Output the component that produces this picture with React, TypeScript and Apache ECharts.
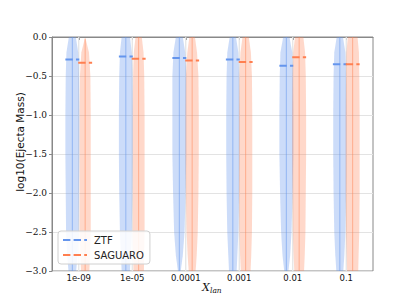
import React, { useEffect, useRef } from "react";
import * as echarts from "echarts";

const categories = ["1e-09", "1e-05", "0.0001", "0.001", "0.01", "0.1"];
const ztfMedian = [-0.29, -0.25, -0.27, -0.29, -0.37, -0.35];
const saguaroMedian = [-0.33, -0.28, -0.3, -0.32, -0.26, -0.35];
const ztfTop = [0, 0, 0, 0, 0, 0];
const saguaroTop = [-0.02, 0, 0, 0, 0, 0];
const violinBottom = -3.0;
const yTicks = [-3.0, -2.5, -2.0, -1.5, -1.0, -0.5, 0.0];

// relative violin half-widths at these levels
const densityLevels = [0, -0.2, -0.5, -1.0, -1.5, -2.0, -2.5, -2.8, -3.0];
const ztfDensity = [
  [0.5, 0.85, 0.95, 1.0, 1.0, 0.95, 0.9, 0.75, 0.55],
  [0.6, 0.85, 0.95, 1.0, 1.0, 0.95, 0.85, 0.7, 0.6],
  [0.5, 0.85, 1.0, 1.0, 1.0, 0.9, 0.75, 0.5, 0.2],
  [0.45, 0.8, 0.9, 0.95, 0.95, 0.9, 0.8, 0.65, 0.55],
  [0.45, 0.85, 0.95, 1.0, 1.0, 0.9, 0.75, 0.55, 0.3],
  [0.45, 0.8, 0.9, 0.95, 0.95, 0.9, 0.8, 0.65, 0.5],
];
const saguaroDensity = [
  [0.05, 0.55, 0.75, 0.8, 0.8, 0.8, 0.8, 0.7, 0.6],
  [0.45, 0.7, 0.8, 0.85, 0.85, 0.85, 0.85, 0.8, 0.75],
  [0.4, 0.7, 0.9, 0.95, 0.95, 0.9, 0.8, 0.65, 0.5],
  [0.45, 0.75, 0.9, 0.95, 0.95, 0.95, 0.9, 0.8, 0.7],
  [0.6, 0.85, 0.95, 1.0, 1.0, 0.95, 0.9, 0.8, 0.7],
  [0.7, 0.9, 0.95, 1.0, 1.0, 1.0, 0.95, 0.85, 0.8],
];

const BLUE = "#6495ED";
const ORANGE = "#FF7F50";
const dashIcon =
  "path://M0,0h7.4v2h-7.4z M10.6,0h7.4v2h-7.4z M21.2,0h2.8v2h-2.8z";

function makeRender(
  medians: number[],
  density: number[][],
  tops: number[],
  side: number,
  fill: string,
  lineColor: string,
  medColor: string
) {
  return (params: any, api: any) => {
    const i = params.dataIndex;
    const cat = api.value(0);
    const band = api.size([1, 0])[0];
    const cx = api.coord([cat, 0])[0] + side * band * 0.12;
    const half = band * 0.13;
    const prof = density[i];
    const left: number[][] = [];
    const right: number[][] = [];
    densityLevels.forEach((lv, k) => {
      const yv = k === 0 ? tops[i] : lv;
      const py = api.coord([cat, yv])[1];
      left.push([cx - prof[k] * half, py]);
      right.unshift([cx + prof[k] * half, py]);
    });
    const yTop = api.coord([cat, tops[i]])[1];
    const yBot = api.coord([cat, violinBottom])[1];
    const yMed = api.coord([cat, medians[i]])[1];
    return {
      type: "group",
      children: [
        {
          type: "polygon",
          shape: { points: left.concat(right) },
          style: { fill, stroke: "none" },
        },
        {
          type: "line",
          shape: { x1: cx, y1: yTop, x2: cx, y2: yBot },
          style: { stroke: lineColor, lineWidth: 1 },
        },
        {
          type: "line",
          shape: { x1: cx - half, y1: yMed, x2: cx + half, y2: yMed },
          style: { stroke: medColor, lineWidth: 2, lineDash: [7.4, 3.2] },
        },
      ],
    };
  };
}

export default function App() {
  const ref = useRef<HTMLDivElement>(null);
  useEffect(() => {
    if (!ref.current) return;
    const chart = echarts.init(ref.current, null, { renderer: "svg" });
    const option: any = {
      animation: false,
      backgroundColor: "#fff",
      grid: {
        left: 52,
        right: 42,
        top: 37,
        bottom: 34,
        show: true,
        borderColor: "#888",
        borderWidth: 1,
        backgroundColor: "transparent",
      },
      xAxis: {
        type: "category",
        data: categories,
        boundaryGap: true,
        axisLine: { show: true, lineStyle: { color: "#888", width: 1 } },
        axisTick: {
          show: true,
          alignWithLabel: true,
          length: 3,
          lineStyle: { color: "#888" },
        },
        axisLabel: {
          color: "#111",
          fontFamily: "DejaVu Sans",
          fontSize: 8.5,
          margin: 2,
        },
        splitLine: { show: false },
      },
      yAxis: {
        type: "value",
        min: -3,
        max: 0,
        interval: 0.5,
        axisLine: { show: true, lineStyle: { color: "#888", width: 1 } },
        axisTick: { show: true, length: 3, lineStyle: { color: "#888" } },
        axisLabel: {
          color: "#111",
          fontFamily: "DejaVu Serif",
          fontSize: 9,
          margin: 5,
          formatter: (v: number) => {
            const t = yTicks.find((y) => Math.abs(y - v) < 1e-9);
            const val = t === undefined ? v : t;
            return val.toFixed(1).replace("-", "\u2212");
          },
        },
        splitLine: { show: true, lineStyle: { color: "#e3e3e3", width: 1.2 } },
      },
      legend: {
        data: [
          { name: "ZTF", icon: dashIcon, itemStyle: { color: BLUE, borderWidth: 0 } },
          { name: "SAGUARO", icon: dashIcon, itemStyle: { color: ORANGE, borderWidth: 0 } },
        ],
        orient: "vertical",
        left: 58,
        top: 231,
        itemWidth: 24,
        itemHeight: 2.5,
        itemGap: 5,
        padding: [4, 6, 4, 5],
        backgroundColor: "rgba(255,255,255,0.85)",
        borderColor: "#d0d0d0",
        borderWidth: 1,
        borderRadius: 3,
        textStyle: {
          fontFamily: "DejaVu Sans",
          fontSize: 10,
          color: "#222",
          padding: [0, 0, 0, 2],
        },
      },
      graphic: [
        {
          type: "text",
          x: 20,
          y: 142,
          rotation: Math.PI / 2,
          style: {
            text: "log10(Ejecta Mass)",
            fontFamily: "DejaVu Sans",
            fontSize: 10.5,
            fill: "#111",
            textAlign: "center",
            textVerticalAlign: "middle",
          },
        },
        {
          type: "text",
          x: 206,
          y: 287,
          style: {
            text: "X",
            fontFamily: "DejaVu Serif",
            fontStyle: "italic",
            fontSize: 11,
            fill: "#111",
            textAlign: "center",
            textVerticalAlign: "middle",
          },
        },
        {
          type: "text",
          x: 210,
          y: 290,
          style: {
            text: "lan",
            fontFamily: "DejaVu Serif",
            fontStyle: "italic",
            fontSize: 7.5,
            fill: "#111",
            textAlign: "left",
            textVerticalAlign: "middle",
          },
        },
      ],
      series: [
        {
          type: "custom",
          name: "xgrid",
          silent: true,
          z: 1,
          data: categories.map((_, i) => [i, 0]),
          encode: { x: 0, y: 1 },
          renderItem: (params: any, api: any) => {
            const cat = api.value(0);
            const x = api.coord([cat, 0])[0];
            const y1 = api.coord([cat, 0])[1];
            const y2 = api.coord([cat, -3])[1];
            return {
              type: "line",
              shape: { x1: x, y1, x2: x, y2 },
              style: { stroke: "#e3e3e3", lineWidth: 1.2 },
            };
          },
        },
        {
          type: "custom",
          name: "ZTF",
          z: 2,
          data: ztfMedian.map((m, i) => [i, m]),
          encode: { x: 0, y: 1 },
          renderItem: makeRender(
            ztfMedian,
            ztfDensity,
            ztfTop,
            -1,
            "rgba(100,149,237,0.33)",
            "rgba(100,149,237,0.55)",
            BLUE
          ),
        },
        {
          type: "custom",
          name: "SAGUARO",
          z: 2,
          data: saguaroMedian.map((m, i) => [i, m]),
          encode: { x: 0, y: 1 },
          renderItem: makeRender(
            saguaroMedian,
            saguaroDensity,
            saguaroTop,
            1,
            "rgba(255,127,80,0.3)",
            "rgba(255,127,80,0.5)",
            ORANGE
          ),
        },
      ],
    };
    chart.setOption(option);
    return () => chart.dispose();
  }, []);
  return (
    <div
      ref={ref}
      style={{ position: "fixed", left: 0, top: 0, width: 415, height: 305 }}
    />
  );
}
